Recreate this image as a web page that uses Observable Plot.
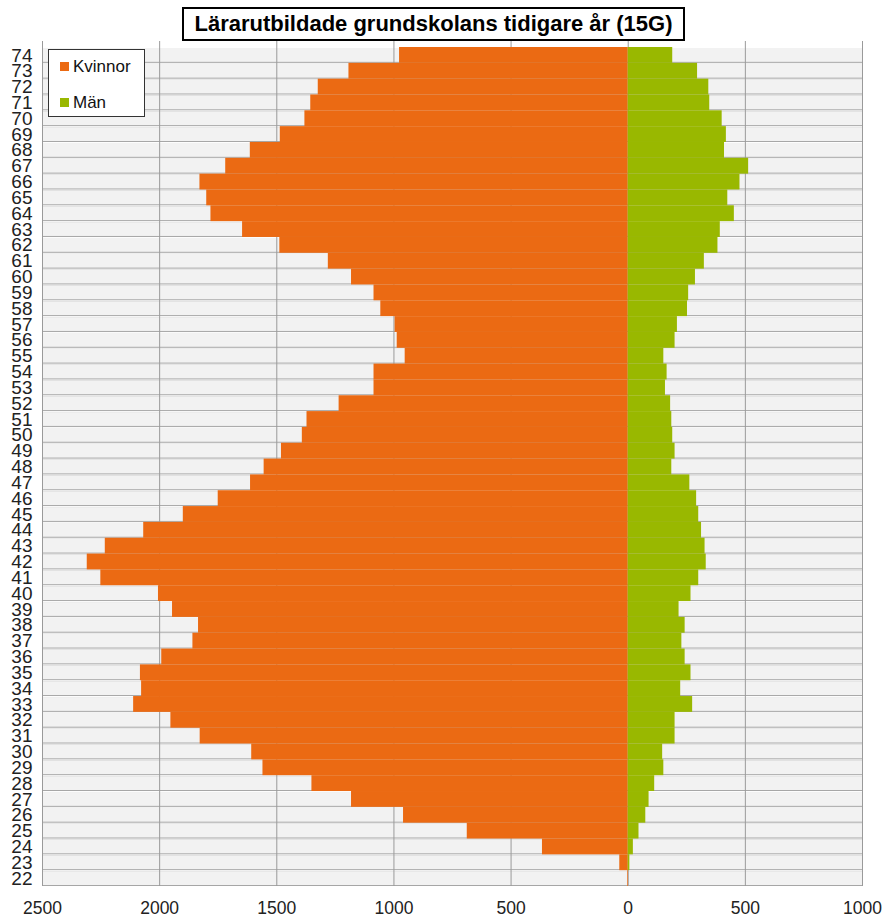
<!DOCTYPE html>
<html><head><meta charset="utf-8">
<script src="https://cdn.jsdelivr.net/npm/d3@7"></script>
<script src="https://cdn.jsdelivr.net/npm/@observablehq/plot@0.6"></script>
<style>
body{margin:0;background:#fff;font-family:"Liberation Sans",Arial,sans-serif;}
#wrap{position:relative;width:884px;height:919px;overflow:hidden;}
#title{position:absolute;left:182px;top:7px;width:499px;height:30px;border:2px solid #000;font-weight:bold;font-size:22px;line-height:30px;text-align:center;color:#000;background:#fff;white-space:nowrap;}
#chart{position:absolute;left:0;top:41px;}
#legend{position:absolute;left:48px;top:49px;width:95px;height:66px;border:1.5px solid #333;background:#fff;}
.sw{position:absolute;width:9px;height:9px;}
.lt{position:absolute;font-size:17px;line-height:17px;color:#111;}
</style>
</head><body>
<div id="wrap">
  <div id="chart"></div>
  <div id="title">Lärarutbildade grundskolans tidigare år (15G)</div>
  <div id="legend"></div>
</div>
<script>
const ages = [22,23,24,25,26,27,28,29,30,31,32,33,34,35,36,37,38,39,40,41,42,43,44,45,46,47,48,49,50,51,52,53,54,55,56,57,58,59,60,61,62,63,64,65,66,67,68,69,70,71,72,73,74];
const women = [3,36,366,687,959,1181,1350,1559,1607,1827,1952,2111,2077,2082,1991,1858,1834,1945,2005,2251,2309,2232,2068,1899,1750,1612,1554,1480,1391,1371,1234,1085,1085,952,986,995,1056,1085,1181,1280,1487,1646,1781,1799,1828,1718,1613,1485,1380,1355,1323,1192,976];
const men = [0,7,22,46,75,89,113,152,147,200,200,275,224,268,243,229,243,217,268,301,333,328,313,301,292,263,186,200,190,186,181,159,166,152,200,210,253,258,287,325,383,393,453,425,477,514,411,419,401,348,344,296,190];
const seriesNames = ["Kvinnor","Män"];
const seriesColors = ["#EB6A13","#99B800"];
const xDomain = [-2500, 1000];
const xTicks = [-2500,-2000,-1500,-1000,-500,0,500,1000];

const data = ages.map((a,i)=>({age:a, women:women[i], men:men[i]}));

const chart = Plot.plot({
  width: 884, height: 878,
  marginTop: 0, marginBottom: 33, marginLeft: 42, marginRight: 22,
  style: {fontFamily: '"Liberation Sans", Arial, sans-serif', color: "#111", background: "transparent"},
  x: {domain: xDomain, label: null},
  y: {type: "band", domain: ages.slice().reverse(), padding: 0, insetTop: 6, label: null},
  marks: [
    Plot.barX(data, {y: "age", x1: () => xDomain[0], x2: () => xDomain[1], fill: "#a6a6a6", insetTop: 1}),
    Plot.barX(data, {y: "age", x1: () => xDomain[0], x2: () => xDomain[1], fill: "#f2f2f2", insetTop: 1, insetBottom: 1}),
    Plot.ruleX(xTicks, {stroke: "#9a9a9a", strokeWidth: 1}),
    Plot.barX(data, {y: "age", x1: d => -d.women, x2: 0, fill: seriesColors[0]}),
    Plot.barX(data, {y: "age", x1: 0, x2: "men", fill: seriesColors[1]}),
    Plot.axisX({ticks: xTicks, tickSize: 0, tickPadding: 15, fontSize: 17.5, label: null, tickFormat: d => String(Math.abs(d)), fill: "#222"}),
    Plot.axisY({tickSize: 0, tickPadding: 10, fontSize: 19, label: null, fill: "#222"})
  ]
});
document.getElementById("chart").appendChild(chart);

const legend = document.getElementById("legend");
seriesNames.forEach((name, i) => {
  const sw = document.createElement("div");
  sw.className = "sw";
  sw.style.left = "11px";
  sw.style.top = (12 + i*36) + "px";
  sw.style.background = seriesColors[i];
  legend.appendChild(sw);
  const t = document.createElement("div");
  t.className = "lt";
  t.style.left = "24px";
  t.style.top = (8 + i*36) + "px";
  t.textContent = name;
  legend.appendChild(t);
});
</script>
</body></html>
